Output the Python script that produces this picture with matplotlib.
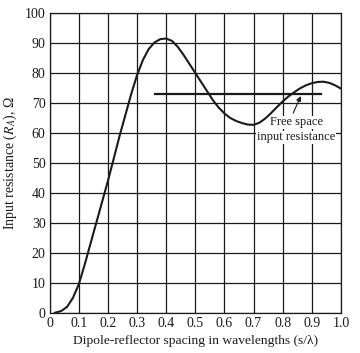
import numpy as np
import matplotlib
matplotlib.use('Agg')
import matplotlib.pyplot as plt

# values
spacing = [0.018, 0.04, 0.06, 0.08, 0.10, 0.12, 0.14, 0.16, 0.18, 0.20,
           0.22, 0.24, 0.26, 0.28, 0.30, 0.32, 0.34, 0.36, 0.38, 0.40,
           0.42, 0.44, 0.46, 0.48, 0.50, 0.52, 0.54, 0.56, 0.58, 0.60,
           0.62, 0.64, 0.66, 0.68, 0.70, 0.72, 0.74, 0.76, 0.78, 0.80,
           0.82, 0.84, 0.86, 0.88, 0.90, 0.92, 0.94, 0.96, 0.98, 1.00]
resistance = [0, 0.6, 2.0, 5.0, 9.5, 16, 23, 30, 37, 44,
              51.5, 59, 66, 73, 79.3, 84.3, 88, 90.2, 91.3, 91.5,
              90.7, 88.7, 86, 83, 80, 77, 74, 71, 68.5, 66.5,
              65, 64, 63.3, 62.8, 62.7, 63.4, 64.8, 66.6, 68.6, 70.5,
              72.2, 73.6, 74.9, 75.9, 76.6, 77.0, 77.1, 76.7, 75.9, 74.8]
free_space_x = [0.36, 0.931]
free_space_r = 73

xticks = np.round(np.arange(0, 1.01, 0.1), 1)
yticks = np.arange(0, 101, 10)
xticklabels = ['0'] + [f'{v:.1f}' for v in xticks[1:]]

plt.rcParams['font.family'] = ['Liberation Serif', 'DejaVu Serif']
plt.rcParams['mathtext.fontset'] = 'stix'

fig = plt.figure(figsize=(3.6, 3.53), dpi=100)
ax = fig.add_axes([0.138, 0.114, 0.809, 0.849])

ink = '#1a1a1a'
ax.plot(spacing, resistance, color=ink, lw=1.5, zorder=5,
        solid_joinstyle='round')
ax.plot(free_space_x, [free_space_r] * 2, color=ink, lw=1.6, zorder=5)

box = dict(boxstyle='square,pad=0.05', fc='white', ec='none')
ax.text(0.848, 63.6, 'Free space', ha='center', va='center',
        fontsize=9, color=ink, zorder=4, bbox=box)
ax.text(0.846, 58.6, 'input resistance', ha='center', va='center',
        fontsize=9, color=ink, zorder=4, bbox=box)
ax.annotate('', xy=(0.862, 72.3), xytext=(0.836, 66.6),
            arrowprops=dict(arrowstyle='-|>', color=ink, lw=0.8,
                            mutation_scale=7, shrinkA=0, shrinkB=0),
            zorder=4)

ax.set_xlim(0, 1)
ax.set_ylim(0, 100)
ax.set_xticks(xticks)
ax.set_xticklabels(xticklabels)
ax.set_yticks(yticks)
ax.set_yticks([90], minor=True)
ax.grid(True, color=ink, lw=0.9)
ax.tick_params(which='major', length=0, labelsize=10, colors=ink, pad=3)
ax.tick_params(which='minor', direction='in', length=4, width=1.6, color=ink,
               left=True, right=True)
for s in ax.spines.values():
    s.set_color(ink)
    s.set_linewidth(0.9)

ax.set_xlabel('Dipole-reflector spacing in wavelengths (s/λ)', fontsize=9.7, color=ink, labelpad=4)
ax.set_ylabel('Input resistance ($R_A$), Ω', fontsize=10, color=ink, labelpad=4)

fig.savefig('out.png', dpi=100)
